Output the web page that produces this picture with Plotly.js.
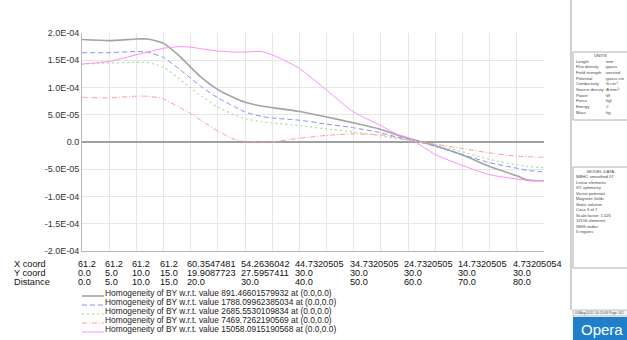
<!DOCTYPE html>
<html><head><meta charset="utf-8">
<script src="https://cdn.plot.ly/plotly-3.0.1.min.js"></script>
<style>html,body{margin:0;padding:0;background:#fff;}#chart{width:627px;height:340px;}</style>
</head><body><div id="chart"></div>
<script>
// ---- data ----
const distance = [0,5,10,12,15,18,20,22,25,28,30,33,35,40,45,50,55,58,60,65,70,75,80,82,85];
const seriesNames = [
  "Homogeneity of BY w.r.t. value 891.46601579932 at (0.0,0.0)",
  "Homogeneity of BY w.r.t. value 1788.09962385034 at (0.0,0.0)",
  "Homogeneity of BY w.r.t. value 2685.5530109834 at (0.0,0.0)",
  "Homogeneity of BY w.r.t. value 7469.7262190569 at (0.0,0.0)",
  "Homogeneity of BY w.r.t. value 15058.0915190568 at (0.0,0.0)"
];
// values in units of 1e-4
const grayVals    = [1.88,1.86,1.89,1.89,1.81,1.57,1.37,1.18,0.96,0.81,0.73,0.66,0.63,0.56,0.46,0.35,0.23,0.13,0.07,-0.07,-0.24,-0.45,-0.62,-0.70,-0.71];
const blueVals    = [1.64,1.64,1.66,1.65,1.55,1.33,1.17,1.01,0.81,0.65,0.55,0.47,0.44,0.40,0.33,0.26,0.17,0.09,0.05,-0.08,-0.23,-0.38,-0.48,-0.52,-0.55];
const greenVals   = [1.43,1.45,1.46,1.46,1.37,1.15,0.99,0.84,0.64,0.50,0.43,0.37,0.35,0.30,0.24,0.18,0.11,0.06,0.04,-0.05,-0.18,-0.32,-0.42,-0.45,-0.47];
const redVals     = [0.82,0.81,0.84,0.84,0.79,0.63,0.52,0.39,0.20,0.05,0.01,0.00,0.00,0.07,0.12,0.15,0.13,0.08,0.03,-0.04,-0.12,-0.20,-0.26,-0.27,-0.28];
const magentaVals = [1.43,1.48,1.60,1.65,1.72,1.75,1.74,1.71,1.67,1.65,1.65,1.66,1.60,1.35,0.95,0.55,0.30,0.14,0.08,-0.23,-0.43,-0.60,-0.68,-0.70,-0.71];

const tableDist  = [0,5,10,15,20,30,40,50,60,70,80];
const xCoordLbl  = ["61.2","61.2","61.2","61.2","60.3547481","54.2636042","44.7320505","34.7320505","24.7320505","14.7320505","4.73205054"];
const yCoordLbl  = ["0.0","5.0","10.0","15.0","19.9087723","27.5957411","30.0","30.0","30.0","30.0","30.0"];
const distLbl    = ["0.0","5.0","10.0","15.0","20.0","30.0","40.0","50.0","60.0","70.0","80.0"];
const rowLabels  = ["X coord","Y coord","Distance"];

const yTickVals  = [2e-4,1.5e-4,1e-4,5e-5,0,-5e-5,-1e-4,-1.5e-4,-2e-4];
const yTickText  = ["2.0E-04","1.5E-04","1.0E-04","5.0E-05","0.0","-5.0E-05","-1.0E-04","-1.5E-04","-2.0E-04"];

const unitsRows = [["Length","mm"],["Flux density","gauss"],["Field strength","oersted"],["Potential","gauss cm"],["Conductivity","S cm\u207B\u00B9"],["Source density","A mm\u207B\u00B2"],["Power","W"],["Force","kgf"],["Energy","J"],["Mass","kg"]];
const modelRows = ["MBHC smoothed 07","Linear elements","XY symmetry","Vector potential","Magnetic fields","Static solution","Case 5 of 7","Scale factor: 1.025","11516 elements","5869 nodes","5 regions"];

// ---- styles ----
const styles = [
  {color:"#a3a3a3", width:1.6, dash:"solid"},
  {color:"#8c8cff", width:1, dash:"5px,3px"},
  {color:"#9ee09e", width:1.2, dash:"2px,3px"},
  {color:"#ff9a9a", width:1, dash:"5px,2px,1px,2px"},
  {color:"#ff8cff", width:1, dash:"solid"}
];
const allVals = [grayVals, blueVals, greenVals, redVals, magentaVals];

const L=82, T=33, W=462, H=218;
const xp = px => (px-L)/W;
const yp = py => (T+H-py)/H;

const traces = allVals.map((v,i)=>({
  x: distance, y: v.map(a=>a*1e-4), type:'scatter', mode:'lines',
  name: seriesNames[i], line: {color:styles[i].color, width:styles[i].width, dash:styles[i].dash, shape:'spline', smoothing:0.6},
  hoverinfo:'skip'
}));

const ann = [];
const shapes = [];
const F = "Liberation Sans, Arial, sans-serif";
const rows = [xCoordLbl, yCoordLbl, distLbl];
const rowY = [264, 273, 282];
rows.forEach((r,ri)=>{
  ann.push({xref:'paper', yref:'paper', x:xp(13), y:yp(rowY[ri]), xanchor:'left', yanchor:'middle', borderpad:0, text:rowLabels[ri], showarrow:false, font:{family:F,size:9.2,color:'#111'}});
  r.forEach((t,ci)=>{
    ann.push({xref:'x', yref:'paper', x:tableDist[ci], xshift:-5, y:yp(rowY[ri]), xanchor:'left', yanchor:'middle', borderpad:0, text:t, showarrow:false, font:{family:F,size:9.2,color:'#111'}});
  });
});
// legend
seriesNames.forEach((n,i)=>{
  const cy = 293 + 9*i;
  ann.push({xref:'paper', yref:'paper', x:xp(104), y:yp(cy), xanchor:'left', yanchor:'middle', borderpad:0, text:n, showarrow:false, font:{family:F,size:8.4,color:'#222'}});
  shapes.push({type:'line', xref:'paper', yref:'paper', x0:xp(82), x1:xp(104), y0:yp(cy+3), y1:yp(cy+3), line:{color:styles[i].color, width:styles[i].width, dash:styles[i].dash}});
});
// right panel
shapes.push({type:'line', xref:'paper', yref:'paper', x0:xp(571), x1:xp(571), y0:yp(0), y1:yp(310), line:{color:'#a0a0a0', width:1}});
shapes.push({type:'rect', xref:'paper', yref:'paper', x0:xp(573), x1:xp(630), y0:yp(52), y1:yp(120), line:{color:'#b0b0b0', width:1}});
ann.push({xref:'paper', yref:'paper', x:xp(600), y:yp(55.5), xanchor:'center', yanchor:'middle', borderpad:0, text:'UNITS', showarrow:false, font:{family:F,size:4.3,color:'#444'}});
unitsRows.forEach((r,i)=>{
  const cy = 61 + 5.7*i;
  ann.push({xref:'paper', yref:'paper', x:xp(575), y:yp(cy), xanchor:'left', yanchor:'middle', borderpad:0, text:r[0], showarrow:false, font:{family:F,size:4.2,color:'#444'}});
  ann.push({xref:'paper', yref:'paper', x:xp(604), y:yp(cy), xanchor:'left', yanchor:'middle', borderpad:0, text:':'+r[1], showarrow:false, font:{family:F,size:4.2,color:'#444'}});
});
shapes.push({type:'rect', xref:'paper', yref:'paper', x0:xp(573), x1:xp(630), y0:yp(167), y1:yp(268), line:{color:'#b0b0b0', width:1}});
ann.push({xref:'paper', yref:'paper', x:xp(600), y:yp(171), xanchor:'center', yanchor:'middle', borderpad:0, text:'MODEL DATA', showarrow:false, font:{family:F,size:4.3,color:'#444'}});
modelRows.forEach((t,i)=>{
  ann.push({xref:'paper', yref:'paper', x:xp(575), y:yp(176.5+5.5*i), xanchor:'left', yanchor:'middle', borderpad:0, text:t, showarrow:false, font:{family:F,size:4.2,color:'#444'}});
});
shapes.push({type:'rect', xref:'paper', yref:'paper', x0:xp(573), x1:xp(630), y0:yp(310), y1:yp(316), line:{color:'#b0b0b0', width:0.8}, fillcolor:'#f2f2f2'});
ann.push({xref:'paper', yref:'paper', x:xp(574), y:yp(313), xanchor:'left', yanchor:'middle', borderpad:0, text:'03/Aug/2011 16:23:48 Page 162', showarrow:false, font:{family:F,size:3.4,color:'#555'}});
shapes.push({type:'rect', xref:'paper', yref:'paper', x0:xp(573), x1:xp(630), y0:yp(317), y1:yp(342), line:{width:0}, fillcolor:'#1f7fcc'});
ann.push({xref:'paper', yref:'paper', x:xp(602), y:yp(329), xanchor:'center', yanchor:'middle', borderpad:0, text:'Opera', showarrow:false, font:{family:F,size:15,color:'#ffffff'}});

const layout = {
  width:627, height:340,
  margin:{l:L, r:627-L-W, t:T, b:340-T-H, pad:0},
  paper_bgcolor:'#fff', plot_bgcolor:'#fff',
  showlegend:false,
  xaxis:{range:[0,85], dtick:5, tick0:0, showticklabels:false, ticks:'', showgrid:true, gridcolor:'#e6e6e6', gridwidth:1, zeroline:false, showline:true, linecolor:'#b8b8b8', linewidth:1, mirror:false, fixedrange:true},
  yaxis:{range:[-2e-4,2e-4], tickvals:yTickVals, ticktext:yTickText, ticks:'', showgrid:true, gridcolor:'#e6e6e6', gridwidth:1, zeroline:true, zerolinecolor:'#a0a0a0', zerolinewidth:1.5, showline:true, linecolor:'#b8b8b8', linewidth:1, tickfont:{family:F,size:9,color:'#333'}, fixedrange:true},
  annotations: ann,
  shapes: shapes
};
Plotly.newPlot('chart', traces, layout, {displayModeBar:false, staticPlot:true});
</script></body></html>
